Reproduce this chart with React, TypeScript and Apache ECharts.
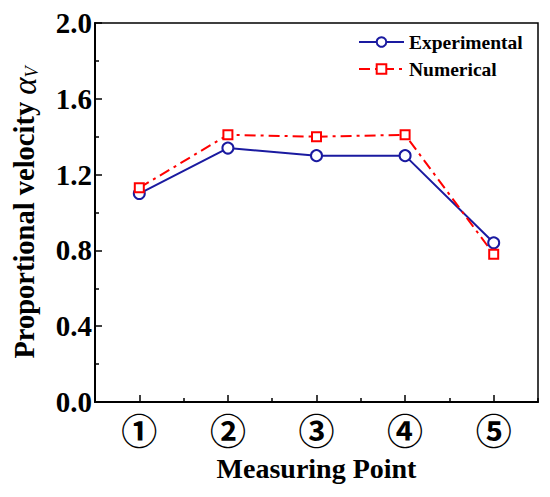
import React, { useEffect, useRef } from "react";
import * as echarts from "echarts";

const categories = ["①", "②", "③", "④", "⑤"];
const experimental = [1.1, 1.34, 1.3, 1.3, 0.84];
const numerical = [1.13, 1.41, 1.4, 1.41, 0.78];
const seriesNames = ["Experimental", "Numerical"];
const yTitle = "Proportional velocity ";
const xTitle = "Measuring Point";

const SERIF = "'Liberation Serif', 'Times New Roman', serif";

export default function App() {
  const ref = useRef<HTMLDivElement>(null);
  useEffect(() => {
    const chart = echarts.init(ref.current!, null, { renderer: "svg" });
    chart.setOption({
      animation: false,
      backgroundColor: "#fff",
      grid: {
        left: 85,
        top: 23,
        right: 12,
        bottom: 95,
        show: true,
        borderColor: "#000",
        borderWidth: 1.5,
        backgroundColor: "transparent",
      },
      legend: {
        left: 358,
        top: 32,
        padding: 0,
        orient: "vertical",
        itemWidth: 45,
        itemHeight: 12,
        itemGap: 7,
        data: seriesNames,
        textStyle: {
          fontFamily: SERIF,
          fontWeight: "bold",
          fontSize: 19.5,
          color: "#000",
        },
      },
      xAxis: [
        {
          type: "category",
          data: categories,
          position: "bottom",
          boundaryGap: true,
          axisLine: { show: true, lineStyle: { color: "#000", width: 2 } },
          axisTick: {
            show: true,
            alignWithLabel: true,
            inside: true,
            length: 7,
            lineStyle: { color: "#000", width: 1.5 },
          },
          axisLabel: {
            fontFamily: "'Noto Sans CJK SC', sans-serif",
            fontWeight: "bold",
            fontSize: 36,
            color: "#000",
            margin: 9,
          },
          splitLine: { show: false },
          name: xTitle,
          nameLocation: "middle",
          nameGap: 52,
          nameTextStyle: {
            fontFamily: SERIF,
            fontWeight: "bold",
            fontSize: 28,
            color: "#000",
          },
        },
        {
          type: "category",
          data: categories,
          position: "bottom",
          boundaryGap: true,
          axisLine: { show: false },
          axisTick: {
            show: true,
            alignWithLabel: false,
            inside: true,
            length: 4,
            lineStyle: { color: "#000", width: 1.5 },
          },
          axisLabel: { show: false },
          splitLine: { show: false },
        },
      ],
      yAxis: {
        type: "value",
        min: 0,
        max: 2,
        interval: 0.4,
        axisLine: { show: true, lineStyle: { color: "#000", width: 2 } },
        axisTick: {
          show: true,
          inside: true,
          length: 7,
          lineStyle: { color: "#000", width: 1.5 },
        },
        minorTick: {
          show: true,
          splitNumber: 2,
          length: 4,
          lineStyle: { color: "#000", width: 1.5 },
        },
        splitLine: { show: false },
        axisLabel: {
          formatter: (v: number) => v.toFixed(1),
          fontFamily: SERIF,
          fontWeight: "bold",
          fontSize: 29,
          color: "#000",
          margin: 3,
        },
        name: `{t|${yTitle}}{a|α}{s|V}`,
        nameLocation: "middle",
        nameGap: 54,
        nameTextStyle: {
          rich: {
            t: {
              fontFamily: SERIF,
              fontWeight: "bold",
              fontSize: 28.5,
              color: "#000",
            },
            a: {
              fontFamily: SERIF,
              fontStyle: "italic",
              fontSize: 33,
              color: "#000",
            },
            s: {
              fontFamily: SERIF,
              fontStyle: "italic",
              fontSize: 18,
              color: "#000",
              verticalAlign: "bottom",
            },
          },
        },
      },
      series: [
        {
          name: seriesNames[0],
          type: "line",
          xAxisIndex: 0,
          data: experimental,
          symbol: "emptyCircle",
          symbolSize: 11,
          color: "#1a1aa0",
          lineStyle: { color: "#1a1aa0", width: 2 },
          itemStyle: { color: "#1a1aa0", borderWidth: 1.5 },
        },
        {
          name: seriesNames[1],
          type: "line",
          xAxisIndex: 0,
          data: numerical,
          symbol: "emptyRect",
          symbolSize: 9,
          color: "#ff0000",
          lineStyle: { color: "#ff0000", width: 2, type: [11, 5, 3, 5] },
          itemStyle: { color: "#ff0000", borderWidth: 1.5 },
        },
      ],
    });
    return () => chart.dispose();
  }, []);
  return (
    <div
      ref={ref}
      style={{ position: "absolute", left: 0, top: 0, width: 550, height: 497 }}
    />
  );
}
